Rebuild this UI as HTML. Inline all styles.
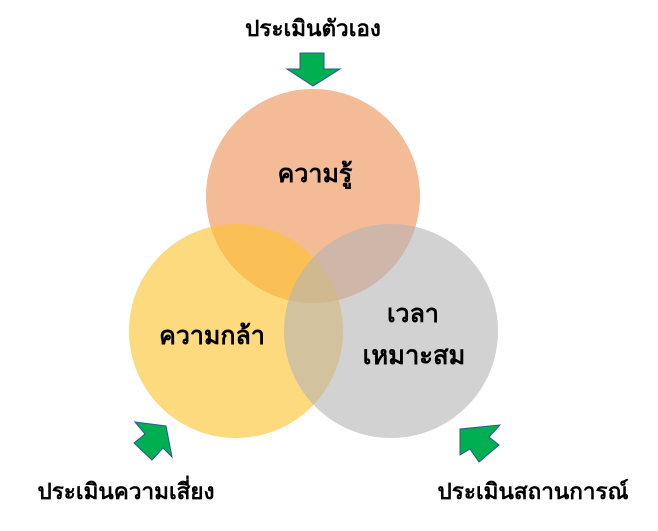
<!DOCTYPE html>
<html><head><meta charset="utf-8"><style>
body{margin:0;background:#fff;width:658px;height:531px;overflow:hidden}
svg{display:block}
text{font-family:"Liberation Sans","Noto Sans CJK SC",sans-serif;font-weight:bold;fill:#000}
</style></head><body>
<svg width="658" height="531" viewBox="0 0 658 531">
<circle cx="313" cy="196" r="107" fill="#F4BC96"/>
<circle cx="236" cy="331" r="107" fill="#FDC32E" fill-opacity="0.62"/>
<circle cx="391" cy="331" r="107" fill="#B4B4B4" fill-opacity="0.6"/>
<polygon points="300,53 324,53 324,69 340,69 313,86 287,69 300,69" fill="#00B050" stroke="#2F5597" stroke-width="1"/>
<polygon points="135,422 166,426 172,457 163,448 152,460 134,443 145,434" fill="#00B050" stroke="#2F5597" stroke-width="1"/>
<polygon points="500,425 460,429 460,455 470,449 479,462 499,445 489,437" fill="#00B050" stroke="#2F5597" stroke-width="1"/>
<text x="313" y="36" font-size="22.5" text-anchor="middle">ประเมินตัวเอง</text>
<text x="315" y="182" font-size="25" text-anchor="middle">ความรู้</text>
<text x="212" y="344" font-size="25" text-anchor="middle">ความกล้า</text>
<text x="413" y="322" font-size="25" text-anchor="middle">เวลา</text>
<text x="414" y="364" font-size="25.5" text-anchor="middle">เหมาะสม</text>
<text x="126" y="499" font-size="22.5" text-anchor="middle">ประเมินความเสี่ยง</text>
<text x="533" y="499" font-size="22.5" text-anchor="middle">ประเมินสถานการณ์</text>
</svg>
</body></html>
